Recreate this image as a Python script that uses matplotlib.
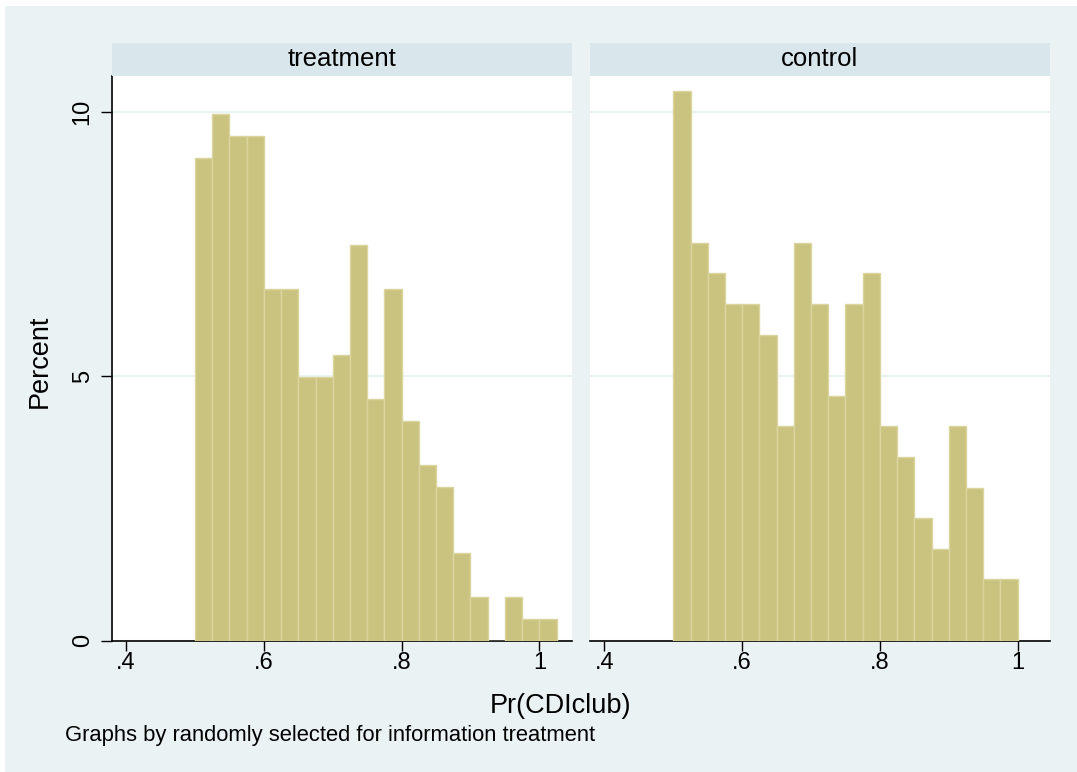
import numpy as np
import matplotlib
matplotlib.use("Agg")
import matplotlib.pyplot as plt
from matplotlib.patches import Rectangle

plt.rcParams['font.family'] = ['Liberation Sans', 'DejaVu Sans']

# histogram data (percent per bin), bins of width .025 starting at .5
bin_start = 0.5
bin_width = 0.025
treatment_pct = [9.13, 9.96, 9.54, 9.54, 6.64, 6.64, 4.98, 4.98, 5.39, 7.47,
                 4.56, 6.64, 4.15, 3.32, 2.90, 1.66, 0.83, 0.0, 0.83, 0.41, 0.41]
control_pct = [10.40, 7.51, 6.94, 6.36, 6.36, 5.78, 4.05, 7.51, 6.36, 4.62,
               6.36, 6.94, 4.05, 3.47, 2.31, 1.73, 4.05, 2.89, 1.16, 1.16]
panel_titles = ['treatment', 'control']
x_ticks = [0.4, 0.6, 0.8, 1.0]
x_ticklabels = ['.4', '.6', '.8', '1']
y_ticks = [0, 5, 10]

bg = '#EAF2F3'
strip_col = '#D9E6EB'
bar_col = '#CAC37F'
bar_edge = '#DAD49F'

W, H = 1077, 772
fig = plt.figure(figsize=(W / 100, H / 100), dpi=100)
fig.patch.set_facecolor('white')
fig.patches.append(Rectangle((5 / W, -0.01), 1.1, 1.01 - 6 / H, transform=fig.transFigure,
                             facecolor=bg, edgecolor='none', zorder=-10))

ax_bottom = (H - 640.5) / H
ax_top = (H - 75.7) / H
ax_w = 460 / W
lefts = [111.7 / W, 590 / W]

for i, (title, pct) in enumerate(zip(panel_titles, [treatment_pct, control_pct])):
    ax = fig.add_axes([lefts[i], ax_bottom, ax_w, ax_top - ax_bottom])
    ax.set_facecolor('white')
    edges = bin_start + bin_width * np.arange(len(pct))
    ax.bar(edges, pct, width=bin_width, align='edge', color=bar_col,
           edgecolor=bar_edge, linewidth=1.0, zorder=3)
    ax.set_xlim(0.379, 1.047)
    ax.set_ylim(0, 10.68)
    for y in y_ticks:
        ax.axhline(y, color=bg, linewidth=1.6, zorder=1)
    ax.set_xticks(x_ticks)
    ax.set_xticklabels(x_ticklabels, fontsize=17)
    ax.tick_params(axis='x', length=7, width=1, pad=1, colors='black')
    for s in ['top', 'right']:
        ax.spines[s].set_visible(False)
    ax.spines['bottom'].set_linewidth(1.2)
    if i == 0:
        ax.set_yticks(y_ticks)
        ax.set_yticklabels([str(y) for y in y_ticks], fontsize=17,
                           rotation=90, va='center')
        ax.tick_params(axis='y', length=8, width=1, pad=5)
        ax.spines['left'].set_linewidth(1.2)
    else:
        ax.set_yticks([])
        ax.spines['left'].set_visible(False)

    # strip with panel title
    sax = fig.add_axes([lefts[i], ax_top, ax_w, 33 / H])
    sax.set_facecolor(strip_col)
    sax.set_xticks([])
    sax.set_yticks([])
    for s in sax.spines.values():
        s.set_visible(False)
    sax.text(0.5, 0.5, title, ha='center', va='center', fontsize=18.5,
             transform=sax.transAxes)

fig.text(40 / W, 1 - 361 / H, 'Percent', rotation=90, ha='center', va='center',
         fontsize=19.5)
fig.text(561 / W, 1 - 713 / H, 'Pr(CDIclub)', ha='center', va='baseline',
         fontsize=19.5)
fig.text(65 / W, 1 - 741 / H, 'Graphs by randomly selected for information treatment',
         ha='left', va='baseline', fontsize=15.8)

fig.savefig('out.png', dpi=100, facecolor=fig.get_facecolor())
